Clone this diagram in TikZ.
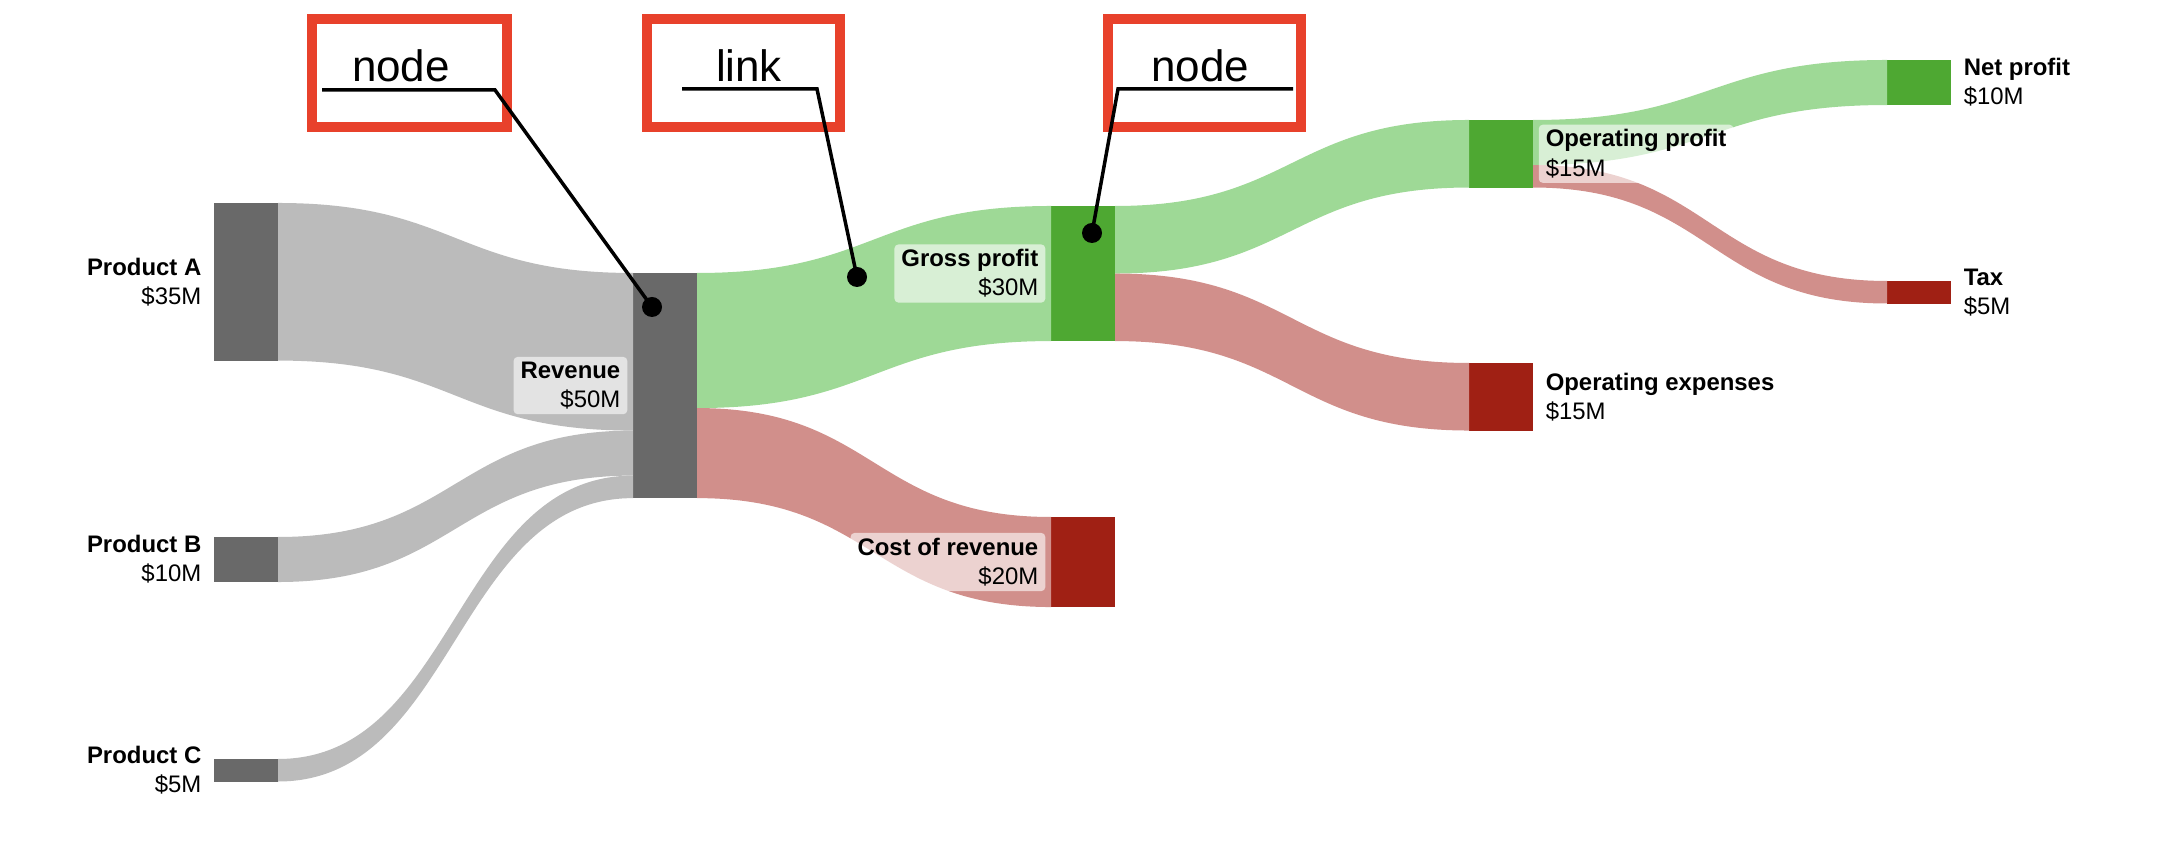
\documentclass[tikz,border=0pt]{standalone}
\usepackage{fontspec}
\setmainfont{Liberation Sans}
\usepackage{tikz}
\usetikzlibrary{positioning}

\definecolor{nodegray}{HTML}{696969}
\definecolor{linkgray}{HTML}{BBBBBB}
\definecolor{nodegreen}{HTML}{4EA832}
\definecolor{linkgreen}{HTML}{9ED996}
\definecolor{nodered}{HTML}{A02014}
\definecolor{linkred}{HTML}{D18F8B}
\definecolor{callout}{HTML}{E8412B}

% flow: colour, source, offset, target, offset, value ($M)
\newcommand{\flow}[6]{%
  \fill[#1] ([yshift={-#3*0.045cm}]#2.north east)
    .. controls +(177.5,0) and +(-177.5,0) .. ([yshift={-#5*0.045cm}]#4.north west)
    -- ([yshift={-(#5+#6)*0.045cm}]#4.north west)
    .. controls +(-177.5,0) and +(177.5,0) .. ([yshift={-(#3+#6)*0.045cm}]#2.north east)
    -- cycle;}

\begin{document}
\begin{tikzpicture}[x=0.01cm, y=-0.01cm,
  bar/.style={rectangle, inner sep=0pt, outer sep=0pt, minimum width=0.64cm, anchor=north west},
  lbl/.style={fill=white, fill opacity=0.6, text opacity=1, rounded corners=0.04cm,
    inner xsep=0.07cm, inner ysep=0.05cm, font=\fontsize{6.8}{8.3}\selectfont},
  tag/.style={font=\fontsize{12.5}{15}\selectfont, anchor=base},
  callbox/.style={draw=callout, line width=0.1cm, minimum height=1.08cm, inner sep=0pt},
  leader/.style={line width=0.035cm},
  dot/.style={circle, fill=black, inner sep=0pt, minimum size=0.2cm}]

\useasboundingbox (0,0) rectangle (2158,868);

% nodes
\node[bar, fill=nodegray, minimum height=1.575cm] (prodA) at (214,203) {};
\node[bar, fill=nodegray, minimum height=0.45cm] (prodB) at (214,537) {};
\node[bar, fill=nodegray, minimum height=0.225cm] (prodC) at (214,759) {};
\node[bar, fill=nodegray, minimum height=2.25cm] (rev) at (633,273) {};
\node[bar, fill=nodegreen, minimum height=1.35cm] (gross) at (1051,206) {};
\node[bar, fill=nodered, minimum height=0.9cm] (cost) at (1051,517) {};
\node[bar, fill=nodegreen, minimum height=0.675cm] (opprofit) at (1469,120) {};
\node[bar, fill=nodered, minimum height=0.675cm] (opex) at (1469,363) {};
\node[bar, fill=nodegreen, minimum height=0.45cm] (net) at (1887,60) {};
\node[bar, fill=nodered, minimum height=0.225cm] (tax) at (1887,281) {};

% links
\flow{linkgray}{prodA}{0}{rev}{0}{35}
\flow{linkgray}{prodB}{0}{rev}{35}{10}
\flow{linkgray}{prodC}{0}{rev}{45}{5}
\flow{linkgreen}{rev}{0}{gross}{0}{30}
\flow{linkred}{rev}{30}{cost}{0}{20}
\flow{linkgreen}{gross}{0}{opprofit}{0}{15}
\flow{linkred}{gross}{15}{opex}{0}{15}
\flow{linkgreen}{opprofit}{0}{net}{0}{10}
\flow{linkred}{opprofit}{10}{tax}{0}{5}

% labels
\node[lbl, align=right, left=0.05cm of prodA] (lblA) {\textbf{Product A}\\\$35M};
\node[lbl, align=right, left=0.05cm of prodB] (lblB) {\textbf{Product B}\\\$10M};
\node[lbl, align=right, left=0.05cm of prodC] (lblC) {\textbf{Product C}\\\$5M};
\node[lbl, align=right, left=0.05cm of rev] (lblrev) {\textbf{Revenue}\\\$50M};
\node[lbl, align=right, left=0.05cm of gross] (lblgross) {\textbf{Gross profit}\\\$30M};
\node[lbl, align=right, left=0.05cm of cost] (lblcost) {\textbf{Cost of revenue}\\\$20M};
\node[lbl, align=left, right=0.05cm of opprofit] (lblopprofit) {\textbf{Operating profit}\\\$15M};
\node[lbl, align=left, right=0.05cm of opex] (lblopex) {\textbf{Operating expenses}\\\$15M};
\node[lbl, align=left, right=0.05cm of net] (lblnet) {\textbf{Net profit}\\\$10M};
\node[lbl, align=left, right=0.05cm of tax] (lbltax) {\textbf{Tax}\\\$5M};

% callouts
\node[callbox, minimum width=1.95cm] (box1) at (409.5,73) {};
\node[callbox, minimum width=1.93cm] (box2) at (743.5,73) {};
\node[callbox, minimum width=1.93cm] (box3) at (1204.5,73) {};
\node[tag] (tag1) at (401,82) {node};
\node[tag] (tag2) at (749,82) {link};
\node[tag] (tag3) at (1200,82) {node};

\node[dot] (dot1) at (652,307) {};
\node[dot] (dot2) at (857,277) {};
\node[dot] (dot3) at (1092,233) {};
\coordinate (u1a) at (322,90);
\coordinate (u1b) at (495,90);
\coordinate (u2a) at (682,89);
\coordinate (u2b) at (817,89);
\coordinate (u3a) at (1293,89);
\coordinate (u3b) at (1118,89);
\draw[leader] (u1a) -- (u1b) -- (dot1.center);
\draw[leader] (u2a) -- (u2b) -- (dot2.center);
\draw[leader] (u3a) -- (u3b) -- (dot3.center);
\end{tikzpicture}
\end{document}
